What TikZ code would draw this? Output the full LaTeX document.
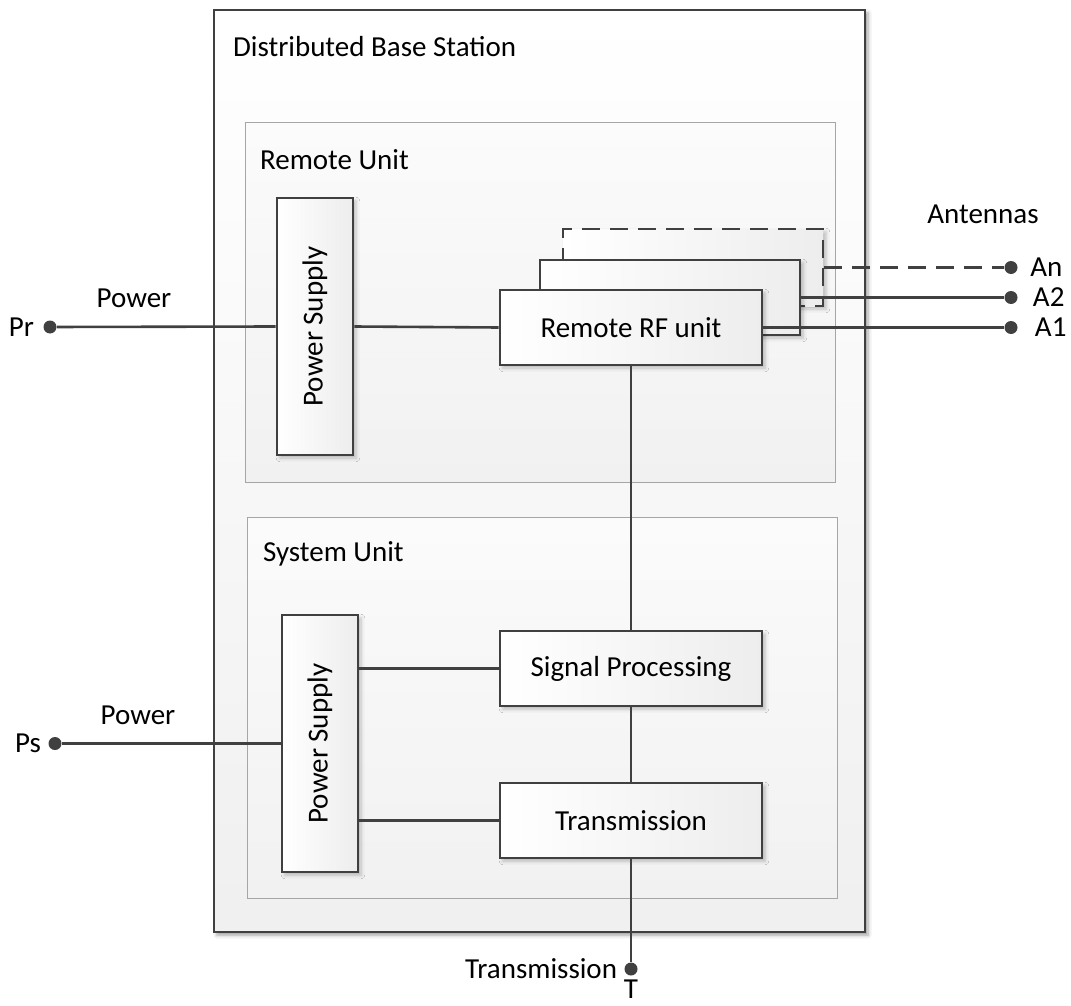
\documentclass[tikz,border=0pt]{standalone}
\usepackage{fontspec}
\setmainfont{Carlito}
\usepackage{graphicx}
\usetikzlibrary{positioning, shadows.blur}

\definecolor{linegray}{HTML}{404040}

\begin{document}
\begin{tikzpicture}[
    x=0.5pt, y=-0.5pt,
    every node/.style={font=\fontsize{14.5}{17}\selectfont},
    wire/.style={draw=linegray, line width=1.3pt},
    station/.style={draw=linegray, line width=1pt, top color=white, bottom color=gray!12, minimum width=325.5pt, minimum height=461pt, inner sep=0pt, blur shadow={shadow xshift=1.5pt, shadow yshift=-1.5pt, shadow blur steps=3}},
    unitbox/.style={draw=gray!70, line width=0.5pt, top color=gray!3, bottom color=gray!11, minimum width=295pt, inner sep=0pt},
    block/.style={draw=linegray, line width=1.3pt, left color=white, right color=gray!14, minimum width=131pt, minimum height=37.5pt, inner sep=0pt, blur shadow={shadow xshift=1.5pt, shadow yshift=-1.5pt, shadow blur steps=3, shadow opacity=25}},
    supply/.style={block, minimum width=38pt, minimum height=128.5pt},
    terminal/.style={circle, fill=linegray, minimum size=6.5pt, inner sep=0pt}
]
\useasboundingbox (0,0) rectangle (1071,1006);

% containers
\node[station] (dbs) at (539.5,471) {};
\node[anchor=west] (dbslabel) at (226,47) {Distributed Base Station};

\node[unitbox, minimum height=179.5pt] (remote) at (540,302.5) {};
\node[anchor=west] (remotelabel) at (253,160) {Remote Unit};

\node[unitbox, minimum height=190.5pt] (system) at (542,707.5) {};
\node[anchor=west] (systemlabel) at (256,554) {System Unit};

% remote unit blocks
\node[supply] (psr) at (315,326.5) {\rotatebox{90}{Power Supply}};
\node[block, dashed, dash pattern=on 9pt off 5pt, minimum width=130pt, minimum height=38.5pt] (rf3) at (693,267.5) {};
\node[block, minimum width=130pt] (rf2) at (670,297.5) {};
\node[block] (rf) at (631,327.5) {Remote RF unit};

% system unit blocks
\node[supply] (pss) at (320,743.5) {\rotatebox{90}{Power Supply}};
\node[block] (sp) at (631,668.5) {Signal Processing};
\node[block] (tx) at (631,820.5) {Transmission};

% terminals
\node[terminal] (pr) at (50,327) {};
\node[left=1pt of pr] (prlabel) {Pr};
\node (powerr) at (134,298) {Power};

\node[terminal] (ps) at (55,743.5) {};
\node[left=0pt of ps] (pslabel) {Ps};
\node (powers) at (138,715) {Power};

\node[terminal] (t) at (631,969) {};
\node[left=0pt of t] (tlabel) {Transmission};
\node[below=-1.5pt of t] (tname) {T};

\node[terminal] (an) at (1011,267.5) {};
\node[terminal] (a2) at (1011,297.5) {};
\node[terminal] (a1) at (1011,327.5) {};
\node[right=2.7pt of an] (anlabel) {An};
\node[right=4pt of a2] (a2label) {A2};
\node[right=5pt of a1] (a1label) {A1};
\node (antennas) at (983,214) {Antennas};

% connectors
\draw[wire] (pr) -- (psr.west);
\draw[wire] (psr.east) -- (rf.west);
\draw[wire] (rf.east) -- (a1);
\draw[wire] (rf2.east) -- (a2);
\draw[wire, dash pattern=on 9pt off 5pt] (rf3.east) -- (an);

\draw[wire] (rf.south) -- (sp.north);
\draw[wire] (sp) -- (tx);
\draw[wire] (tx.south) -- (t);

\draw[wire] (ps) -- (pss.west);
\draw[wire] (sp.west) -- (sp.west -| pss.east);
\draw[wire] (tx.west) -- (tx.west -| pss.east);

\end{tikzpicture}
\end{document}
